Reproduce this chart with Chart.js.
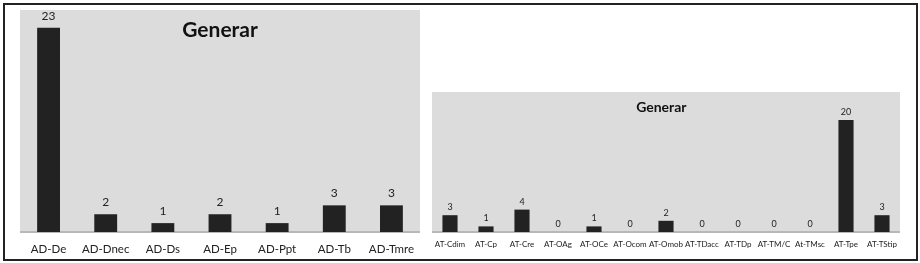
<!DOCTYPE html>
<html>
<head>
<meta charset="utf-8">
<script src="https://cdn.jsdelivr.net/npm/chart.js@4/dist/chart.umd.min.js"></script>
<style>
  body { margin: 0; background: #fff; }
  #wrap { position: relative; width: 920px; height: 263px; }
  #frame { position: absolute; left: 3px; top: 3px; width: 911px; height: 254px; border: 2px solid #222; }
  canvas { position: absolute; }
  #left { left: 20px; top: 10px; }
  #right { left: 432px; top: 92px; }
</style>
</head>
<body>
<div id="wrap">
  <div id="frame"></div>
  <canvas id="left" width="400" height="250"></canvas>
  <canvas id="right" width="468" height="162"></canvas>
</div>
<script>
var chartTitle = 'Generar';

var labelsLeft = ['AD-De', 'AD-Dnec', 'AD-Ds', 'AD-Ep', 'AD-Ppt', 'AD-Tb', 'AD-Tmre'];
var valuesLeft = [23, 2, 1, 2, 1, 3, 3];

var labelsRight = ['AT-Cdim', 'AT-Cp', 'AT-Cre', 'AT-OAg', 'AT-OCe', 'AT-Ocom', 'AT-Omob',
                   'AT-TDacc', 'AT-TDp', 'AT-TM/C', 'At-TMsc', 'AT-Tpe', 'AT-TStip'];
var valuesRight = [3, 1, 4, 0, 1, 0, 2, 0, 0, 0, 0, 20, 3];

var yMax = 25;

// grey plot background, title drawn inside the plot, value labels over bars
var boxPlugin = {
    id: 'box',
    beforeDraw: function(chart, args, opts) {
        var a = chart.chartArea, ctx = chart.ctx;
        ctx.save();
        ctx.fillStyle = '#dcdcdc';
        ctx.fillRect(a.left, a.top, a.right - a.left, a.bottom - a.top);
        ctx.restore();
    },
    afterDatasetsDraw: function(chart, args, opts) {
        var a = chart.chartArea, ctx = chart.ctx;
        ctx.save();
        ctx.fillStyle = '#111';
        ctx.textAlign = 'center';
        ctx.textBaseline = 'middle';
        ctx.font = 'bold ' + opts.titleSize + 'px Lato';
        ctx.fillText(chartTitle, a.left + (a.right - a.left) * opts.titleX, a.top + opts.titleY);

        ctx.font = opts.valueSize + 'px Lato';
        ctx.fillStyle = '#222';
        var meta = chart.getDatasetMeta(0);
        var data = chart.data.datasets[0].data;
        meta.data.forEach(function(bar, i) {
            ctx.fillText(String(data[i]), bar.x, bar.y - opts.valueGap);
        });
        ctx.restore();
    }
};

function makeChart(id, labels, values, o) {
    return new Chart(document.getElementById(id), {
        type: 'bar',
        data: {
            labels: labels,
            datasets: [{
                data: values,
                backgroundColor: '#222',
                categoryPercentage: 1,
                barPercentage: o.barPct
            }]
        },
        options: {
            responsive: false,
            animation: false,
            devicePixelRatio: 1,
            layout: { padding: 0 },
            plugins: {
                legend: { display: false },
                tooltip: { enabled: false },
                box: {
                    titleSize: o.titleSize, titleX: o.titleX, titleY: o.titleY,
                    valueSize: o.valueSize, valueGap: o.valueGap
                }
            },
            scales: {
                x: {
                    grid: { display: false, drawTicks: false },
                    border: { display: true, color: '#b8b8b8', width: 2 },
                    ticks: { color: '#222', padding: o.tickPad, maxRotation: 0, autoSkip: false,
                             font: { family: 'Lato', size: o.tickSize } },
                    afterFit: function(scale) {
                        scale.height = o.axisH;
                        scale.paddingLeft = 0;
                        scale.paddingRight = 0;
                    }
                },
                y: { display: false, min: 0, max: yMax }
            }
        },
        plugins: [boxPlugin]
    });
}

makeChart('left', labelsLeft, valuesLeft, {
    barPct: 0.4, titleSize: 21, titleX: 0.5, titleY: 20,
    valueSize: 12, valueGap: 12, tickSize: 11.5, tickPad: 10, axisH: 28
});

makeChart('right', labelsRight, valuesRight, {
    barPct: 0.42, titleSize: 14, titleX: 0.49, titleY: 15,
    valueSize: 9, valueGap: 8, tickSize: 8, tickPad: 8, axisH: 22
});
</script>
</body>
</html>
